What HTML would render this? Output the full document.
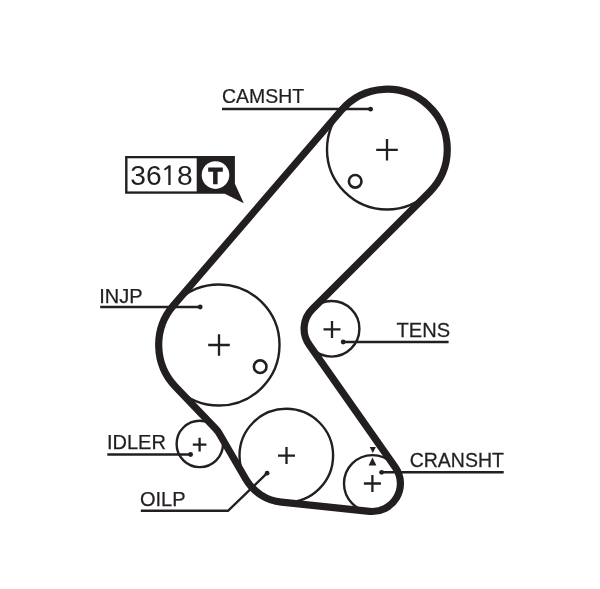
<!DOCTYPE html>
<html><head><meta charset="utf-8"><style>
html,body{margin:0;padding:0;background:#fff;width:600px;height:589px;overflow:hidden}
svg{display:block}
text{font-family:"Liberation Sans",sans-serif;fill:#231f20;stroke:#231f20;stroke-width:0.25px;will-change:transform}
</style></head><body>
<svg width="600" height="589" viewBox="0 0 600 589">
<g fill="none" stroke="#231f20" stroke-width="2.4">
<circle cx="387" cy="149.5" r="60"/>
<circle cx="355.2" cy="181.3" r="6.3" stroke-width="2.6"/>
<circle cx="219" cy="345" r="60.5"/>
<circle cx="260.2" cy="366.7" r="6.3" stroke-width="2.6"/>
<circle cx="331.6" cy="328.8" r="27.8"/>
<circle cx="372.4" cy="483.5" r="28.4"/>
<circle cx="286.3" cy="455.6" r="46.8"/>
<circle cx="199.8" cy="443.9" r="23.2"/>
</g>
<path d="M429.54,192.09 L312.17,309.34 A27.50,27.50 0 0 0 309.09,344.60 L395.32,467.41 A28.00,28.00 0 0 1 369.49,511.35 L281.44,502.15 A46.80,46.80 0 0 1 245.88,479.20 L218.80,432.81 A22.00,22.00 0 0 0 215.68,428.68 L175.47,386.73 A60.30,60.30 0 0 1 173.28,305.68 L341.36,110.25 A60.20,60.20 0 1 1 429.54,192.09 Z" fill="none" stroke="#231f20" stroke-width="7.2" stroke-linejoin="round"/>
<path d="M376.2,149.8H397.8M387,139.0V160.60000000000002" stroke="#231f20" stroke-width="2.3" fill="none"/>
<path d="M208.2,345H229.8M219,334.2V355.8" stroke="#231f20" stroke-width="2.3" fill="none"/>
<path d="M323.5,329.4H340.5M332,320.9V337.9" stroke="#231f20" stroke-width="2.3" fill="none"/>
<path d="M278.0,455.6H295.0M286.5,447.1V464.1" stroke="#231f20" stroke-width="2.3" fill="none"/>
<path d="M363.9,483.5H380.9M372.4,475.0V492.0" stroke="#231f20" stroke-width="2.3" fill="none"/>
<path d="M192.79999999999998,444.6H206.4M199.6,437.8V451.40000000000003" stroke="#231f20" stroke-width="2.3" fill="none"/>
<g stroke="#231f20" stroke-width="2.4" fill="none">
<path d="M222,109H370.6"/>
<path d="M100.2,307H200.2"/>
<path d="M343.2,342H448.6"/>
<path d="M107.3,454.5H190.6"/>
<path d="M140.8,510.8H228L267.1,473.2"/>
<path d="M381.6,472.3H503.7"/>
</g>
<g fill="#231f20">
<circle cx="370.6" cy="109.2" r="2.4"/>
<circle cx="200.2" cy="307" r="2.4"/>
<circle cx="343.2" cy="342" r="2.4"/>
<circle cx="190.6" cy="454.5" r="2.4"/>
<circle cx="267.1" cy="473.2" r="2.4"/>
<circle cx="381.6" cy="472.3" r="2.4"/>
<path d="M369.7,447.1H375.9L372.8,453.1Z"/>
<path d="M368.6,465.4H376.4L372.5,457.6Z"/>
</g>
<text transform="translate(222,103) scale(0.972,1)" font-size="20">CAMSHT</text>
<text x="99.3" y="302.6" font-size="20">INJP</text>
<text transform="translate(396.6,336.5) scale(0.985,1)" font-size="20.4">TENS</text>
<text x="107" y="449.4" font-size="20">IDLER</text>
<text x="140" y="505.8" font-size="20">OILP</text>
<text transform="translate(409.7,467) scale(0.975,1)" font-size="20">CRANSHT</text>
<!-- 3618 box -->
<path d="M125.1,156.1H234.9V183.7L243.8,203.2L224.8,193.7H125.1Z" fill="#231f20"/>
<rect x="127.5" y="158.3" width="69.2" height="33.1" fill="#fff"/>
<circle cx="215.5" cy="175.1" r="13.8" fill="#fff"/>
<path d="M208.2,167.4H222.8V171.7H217.6V184.2H213.1V171.7H208.2Z" fill="#231f20"/>
<g font-size="28.2"><text x="130.2" y="185.2" style="stroke:none">3</text><text x="145.9" y="185.2" style="stroke:none">6</text><text x="177.1" y="185.2" style="stroke:none">8</text></g>
<path d="M170.6,185.1V165.3H168.7L163.9,168.9L164.9,170.6L168.3,168.2V185.1Z" fill="#231f20"/>
</svg>
</body></html>
